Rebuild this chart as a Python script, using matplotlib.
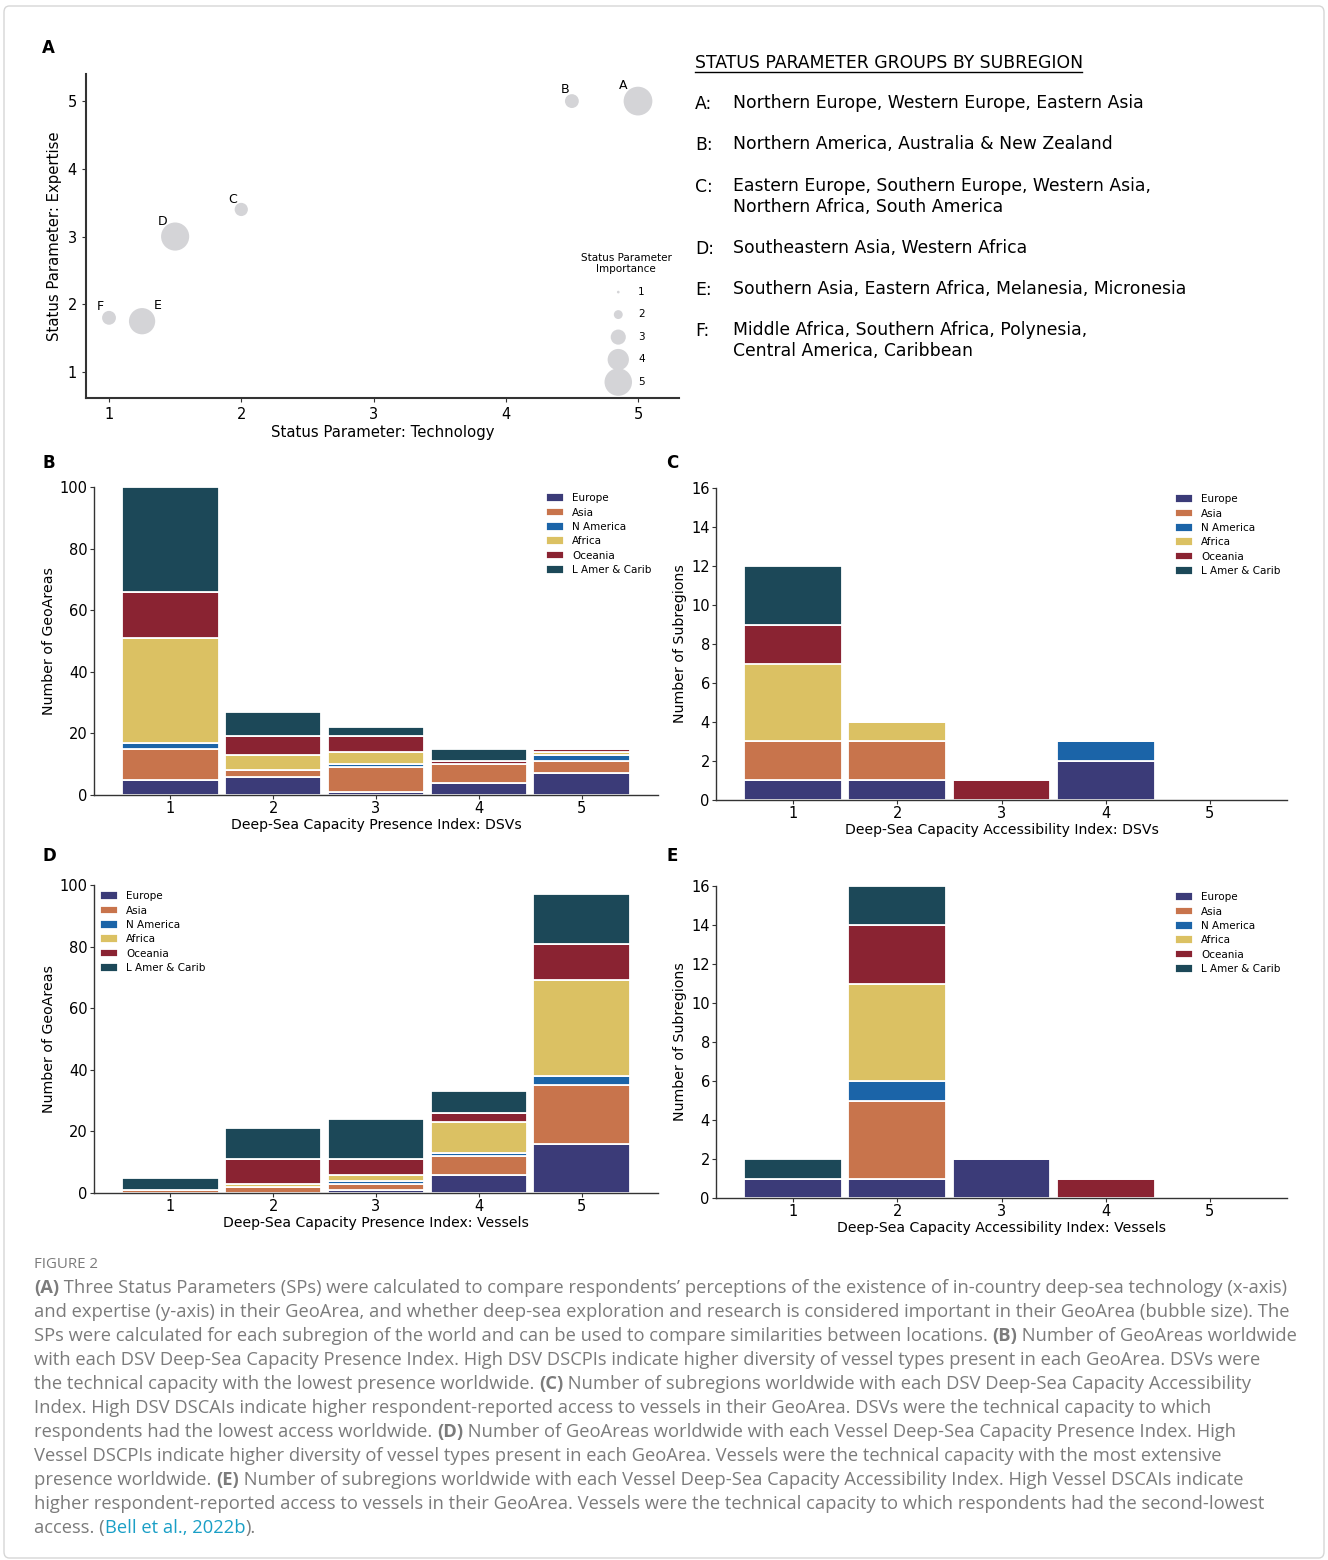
import re
import matplotlib
matplotlib.use("Agg")
import matplotlib.pyplot as plt
from matplotlib.patches import FancyBboxPatch
from matplotlib.lines import Line2D
import numpy as np

# ---- data -------------------------------------------------------------
regions = ["Europe", "Asia", "N America", "Africa", "Oceania", "L Amer & Carib"]
region_colors = ["#3b3b78", "#c8744c", "#1b64a8", "#dbc163", "#8a2332", "#1c4858"]
index_levels = [1, 2, 3, 4, 5]

# rows follow `regions`, columns follow `index_levels`
dsv_presence = [
    [5, 6, 1, 4, 7],
    [10, 2, 8, 6, 4],
    [2, 0, 1, 0, 2],
    [34, 5, 4, 0, 1],
    [15, 6, 5, 1, 1],
    [34, 8, 3, 4, 0],
]
dsv_access = [
    [1, 1, 0, 2, 0],
    [2, 2, 0, 0, 0],
    [0, 0, 0, 1, 0],
    [4, 1, 0, 0, 0],
    [2, 0, 1, 0, 0],
    [3, 0, 0, 0, 0],
]
vessel_presence = [
    [0, 0, 1, 6, 16],
    [1, 2, 2, 6, 19],
    [0, 0, 1, 1, 3],
    [0, 1, 2, 10, 31],
    [0, 8, 5, 3, 12],
    [4, 10, 13, 7, 16],
]
vessel_access = [
    [1, 1, 2, 0, 0],
    [0, 4, 0, 0, 0],
    [0, 1, 0, 0, 0],
    [0, 5, 0, 0, 0],
    [0, 3, 0, 1, 0],
    [1, 2, 0, 0, 0],
]

groups = ["A", "B", "C", "D", "E", "F"]
technology = [5.0, 4.5, 2.0, 1.5, 1.25, 1.0]
expertise = [5.0, 5.0, 3.4, 3.0, 1.75, 1.8]
importance = [5.2, 2.8, 2.7, 5.1, 4.8, 2.8]
importance_legend = [1, 2, 3, 4, 5]

group_members = [
    "Northern Europe, Western Europe, Eastern Asia",
    "Northern America, Australia & New Zealand",
    "Eastern Europe, Southern Europe, Western Asia,\nNorthern Africa, South America",
    "Southeastern Asia, Western Africa",
    "Southern Asia, Eastern Africa, Melanesia, Micronesia",
    "Middle Africa, Southern Africa, Polynesia,\nCentral America, Caribbean",
]

caption_lines = [
    "**(A)** Three Status Parameters (SPs) were calculated to compare respondents\u2019 perceptions of the existence of in-country deep-sea technology (x-axis)",
    "and expertise (y-axis) in their GeoArea, and whether deep-sea exploration and research is considered important in their GeoArea (bubble size). The",
    "SPs were calculated for each subregion of the world and can be used to compare similarities between locations. **(B)** Number of GeoAreas worldwide",
    "with each DSV Deep-Sea Capacity Presence Index. High DSV DSCPIs indicate higher diversity of vessel types present in each GeoArea. DSVs were",
    "the technical capacity with the lowest presence worldwide. **(C)** Number of subregions worldwide with each DSV Deep-Sea Capacity Accessibility",
    "Index. High DSV DSCAIs indicate higher respondent-reported access to vessels in their GeoArea. DSVs were the technical capacity to which",
    "respondents had the lowest access worldwide. **(D)** Number of GeoAreas worldwide with each Vessel Deep-Sea Capacity Presence Index. High",
    "Vessel DSCPIs indicate higher diversity of vessel types present in each GeoArea. Vessels were the technical capacity with the most extensive",
    "presence worldwide. **(E)** Number of subregions worldwide with each Vessel Deep-Sea Capacity Accessibility Index. High Vessel DSCAIs indicate",
    "higher respondent-reported access to vessels in their GeoArea. Vessels were the technical capacity to which respondents had the second-lowest",
    "access. ([[Bell et al., 2022b]]).",
]

# label offsets (points) for bubble letters
label_offsets = {"A": (-11, 11), "B": (-5, 8), "C": (-6, 7), "D": (-9, 11),
                 "E": (11, 11), "F": (-6, 8)}

W, H = 1328, 1560
CAPTION_GREY = "#7b7b7b"
LINK = "#1a9fc6"


def rect(l, t, r, b):
    return [l / W, 1 - b / H, (r - l) / W, (b - t) / H]


def bubble_size(v):
    return (0.72 * (6.2 * v - 3.5)) ** 2


def style_axes(ax):
    for side in ("top", "right"):
        ax.spines[side].set_visible(False)
    for side in ("left", "bottom"):
        ax.spines[side].set_color("#333333")
        ax.spines[side].set_linewidth(1.0)
    ax.tick_params(labelsize=10.5, length=3, color="#333333")


def stacked(ax, data, ylim, ylabel, xlabel, legend_loc, anchor):
    bottom = np.zeros(len(index_levels))
    for name, color, row in zip(regions, region_colors, data):
        row = np.array(row, dtype=float)
        ax.bar(index_levels, row, bottom=bottom, width=0.94, color=color,
               edgecolor="white", linewidth=1.3, label=name)
        bottom += row
    ax.set_xlim(0.26, 5.74)
    ax.set_ylim(*ylim)
    ax.set_xticks(index_levels)
    style_axes(ax)
    ax.tick_params(pad=1.5)
    ax.set_ylabel(ylabel, fontsize=10.2, labelpad=3)
    ax.set_xlabel(xlabel, fontsize=10.1, labelpad=1)
    ax.legend(loc=legend_loc, bbox_to_anchor=anchor, frameon=False,
              fontsize=7.5, handlelength=1.7, handleheight=0.9,
              labelspacing=0.42, handletextpad=0.8, borderaxespad=0.2)


def rich_line(fig, renderer, x, y, line, size):
    parts = re.split(r"(\*\*.*?\*\*|\[\[.*?\]\])", line)
    for p in parts:
        if not p:
            continue
        weight, color = "normal", CAPTION_GREY
        if p.startswith("**"):
            p, weight = p[2:-2], "bold"
        elif p.startswith("[["):
            p, color = p[2:-2], LINK
        t = fig.text(x, y, p, fontsize=size, family="Open Sans",
                     weight=weight, color=color, va="center", ha="left")
        x += t.get_window_extent(renderer).width / fig.bbox.width


def main():
    fig = plt.figure(figsize=(W / 100, H / 100), dpi=100)
    fig.patches.append(FancyBboxPatch((4 / W, 2 / H), 1 - 8 / W, 1 - 8 / H,
                                      boxstyle="round,pad=0,rounding_size=0.004",
                                      transform=fig.transFigure, facecolor="none",
                                      edgecolor="#d6d6d6", linewidth=1.0))

    # ---- panel A -------------------------------------------------------
    ax = fig.add_axes(rect(86, 74, 679, 398))
    ax.scatter(technology, expertise, s=[bubble_size(v) for v in importance],
               color="#d4d4d7", edgecolor="none", zorder=3)
    for g, x, y in zip(groups, technology, expertise):
        ax.annotate(g, (x, y), xytext=label_offsets[g], textcoords="offset points",
                    ha="center", va="center", fontsize=9)
    ax.set_xlim(0.826, 5.31)
    ax.set_ylim(0.616, 5.4)
    ax.set_xticks([1, 2, 3, 4, 5])
    ax.set_yticks([1, 2, 3, 4, 5])
    style_axes(ax)
    ax.spines["left"].set_linewidth(1.5)
    ax.spines["bottom"].set_linewidth(1.5)
    ax.set_xlabel("Status Parameter: Technology", fontsize=10.7, labelpad=2)
    ax.set_ylabel("Status Parameter: Expertise", fontsize=10.7)
    handles = [ax.scatter([], [], s=bubble_size(v), color="#d4d4d7", edgecolor="none")
               for v in importance_legend]
    leg = ax.legend(handles, [str(v) for v in importance_legend],
                    title="Status Parameter\nImportance", title_fontsize=7.5,
                    fontsize=7.5, loc="lower right", bbox_to_anchor=(1.0, 0.012),
                    frameon=False, labelspacing=1.2, handletextpad=0.9,
                    borderpad=0.2, alignment="center")
    leg.get_title().set_multialignment("center")

    # right-hand text block
    fig.text(695 / W, 1 - 63 / H, "STATUS PARAMETER GROUPS BY SUBREGION",
             fontsize=12.45, va="center", ha="left")
    fig.add_artist(Line2D([695 / W, 1082 / W], [1 - 72 / H, 1 - 72 / H],
                          color="black", linewidth=1.0))
    ys = [104, 145, 187, 249, 290, 331]
    for g, desc, y in zip(groups, group_members, ys):
        fig.text(695 / W, 1 - y / H, g + ":", fontsize=12.4, va="center", ha="left")
        fig.text(733 / W, 1 - (y - 10) / H, desc, fontsize=12.4, va="top", ha="left",
                 linespacing=1.2)

    # ---- panels B-E ----------------------------------------------------
    axB = fig.add_axes(rect(94, 487, 658, 795))
    stacked(axB, dsv_presence, (0, 100), "Number of GeoAreas",
            "Deep-Sea Capacity Presence Index: DSVs", "upper right", (1.0, 1.0))
    axC = fig.add_axes(rect(716, 488, 1287, 800))
    stacked(axC, dsv_access, (0, 16), "Number of Subregions",
            "Deep-Sea Capacity Accessibility Index: DSVs", "upper right", (1.0, 1.0))
    axD = fig.add_axes(rect(94, 885, 658, 1193))
    stacked(axD, vessel_presence, (0, 100), "Number of GeoAreas",
            "Deep-Sea Capacity Presence Index: Vessels", "upper left", (0.0, 1.0))
    axE = fig.add_axes(rect(716, 886, 1287, 1198))
    stacked(axE, vessel_access, (0, 16), "Number of Subregions",
            "Deep-Sea Capacity Accessibility Index: Vessels", "upper right", (1.0, 1.0))

    # panel letters
    for letter, x, y in [("A", 42, 48), ("B", 42, 463), ("C", 666, 463),
                         ("D", 42, 856), ("E", 666, 856)]:
        fig.text(x / W, 1 - y / H, letter, fontsize=12, weight="bold",
                 va="center", ha="left")

    # ---- caption -------------------------------------------------------
    fig.text(34 / W, 1 - 1265 / H, "FIGURE 2", fontsize=10.8, family="Open Sans",
             color=CAPTION_GREY, va="center", ha="left")
    renderer = fig.canvas.get_renderer()
    for i, line in enumerate(caption_lines):
        rich_line(fig, renderer, 34 / W, 1 - (1288 + 24 * i) / H, line, 13.2)

    fig.savefig("out.png", dpi=100)


if __name__ == "__main__":
    main()
